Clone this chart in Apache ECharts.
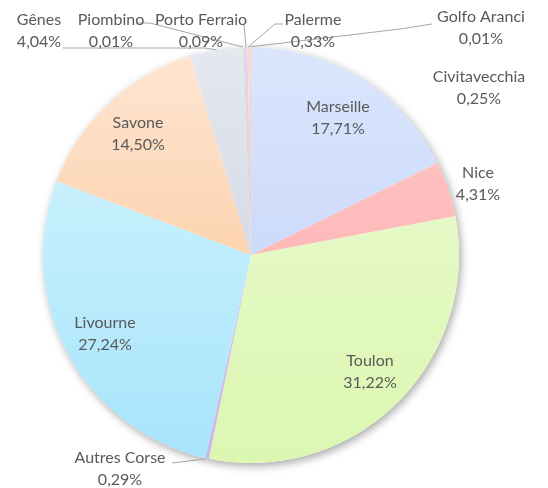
<!DOCTYPE html>
<html><head><meta charset="utf-8">
<script src="https://cdn.jsdelivr.net/npm/echarts@6/dist/echarts.min.js"></script>
<style>html,body{margin:0;padding:0;background:#fff}#c{width:548px;height:488px}</style>
</head><body><div id="c"></div>
<script>
const categories = ['Marseille','Nice','Toulon','Autres Corse','Livourne','Savone','Gênes','Piombino','Porto Ferraio','Palerme','Golfo Aranci','Civitavecchia'];
const shares = [17.71,4.31,31.22,0.29,27.24,14.50,4.04,0.01,0.09,0.33,0.01,0.25];

// styling (not data)
const topColors = ['#dbe6fd','#ffc8c8','#ecfad6','#dccff0','#d8f6fe','#fee6d2','#e4e8ef','#ead2d2','#dae4cc','#e0d8ea','#dff5fa','#fdd8cc'];
const botColors = ['#bdd0f8','#ffabab','#dbf7b0','#cbb8ea','#a6e4fb','#fbc08f','#c6cedc','#dcb8b8','#c4d2b0','#cec2dc','#c2eaf4','#f9bcaa'];
const labelXY = {
  'Marseille':[338,118],'Nice':[478,184],'Toulon':[370,372],'Autres Corse':[120,469],
  'Livourne':[105,334],'Savone':[138,134],'Gênes':[39,31],'Piombino':[111,31],
  'Porto Ferraio':[201,31],'Palerme':[313,31],'Golfo Aranci':[481,28],'Civitavecchia':[479,88]
};
const leader = {
  'Autres Corse':[[172,463],[205,459]],
  'Gênes':[[63,48],[205,48],[217,50]],
  'Piombino':[[137,23],[150,23],[243,47]],
  'Porto Ferraio':[[244,25],[246,47]],
  'Palerme':[[283,24],[275,24],[248,47]],
  'Golfo Aranci':[[432,24],[400,29],[249,47]]
};

const chart = echarts.init(document.getElementById('c'), null, {renderer:'canvas'});
const data = categories.map((n,i)=>({
  name:n, value:shares[i],
  itemStyle:{color:new echarts.graphic.LinearGradient(0,47,0,463,[{offset:0,color:topColors[i]},{offset:1,color:botColors[i]}],true)},
  labelLine:{show: !!leader[n]}
}));
chart.setOption({
  animation:false,
  series:[
    {type:'pie',silent:true,center:[251,255],radius:[0,208],z:1,
     label:{show:false},labelLine:{show:false},
     itemStyle:{color:'#fff',shadowBlur:8,shadowOffsetX:2,shadowOffsetY:3,shadowColor:'rgba(0,0,0,0.35)'},
     data:[{value:1,name:'bg'}]},
    {type:'pie',center:[251,255],radius:[0,208],startAngle:90,clockwise:true,z:2,
     avoidLabelOverlap:false,
     itemStyle:{borderWidth:0},
     label:{show:true,position:'outside',fontFamily:'Lato',fontSize:16,color:'#595959',lineHeight:22,align:'center',
       formatter:p=>p.name+'\n'+p.value.toFixed(2).replace('.',',')+'%'},
     labelLine:{show:true,lineStyle:{color:'#a6a6a6',width:1}},
     labelLayout:function(p){
       const n=categories[p.dataIndex];
       const xy=labelXY[n];
       const r={x:xy[0],y:xy[1],align:'center',verticalAlign:'middle'};
       if(leader[n]) r.labelLinePoints=leader[n];
       return r;
     },
     data:data}
  ]
});
</script></body></html>
